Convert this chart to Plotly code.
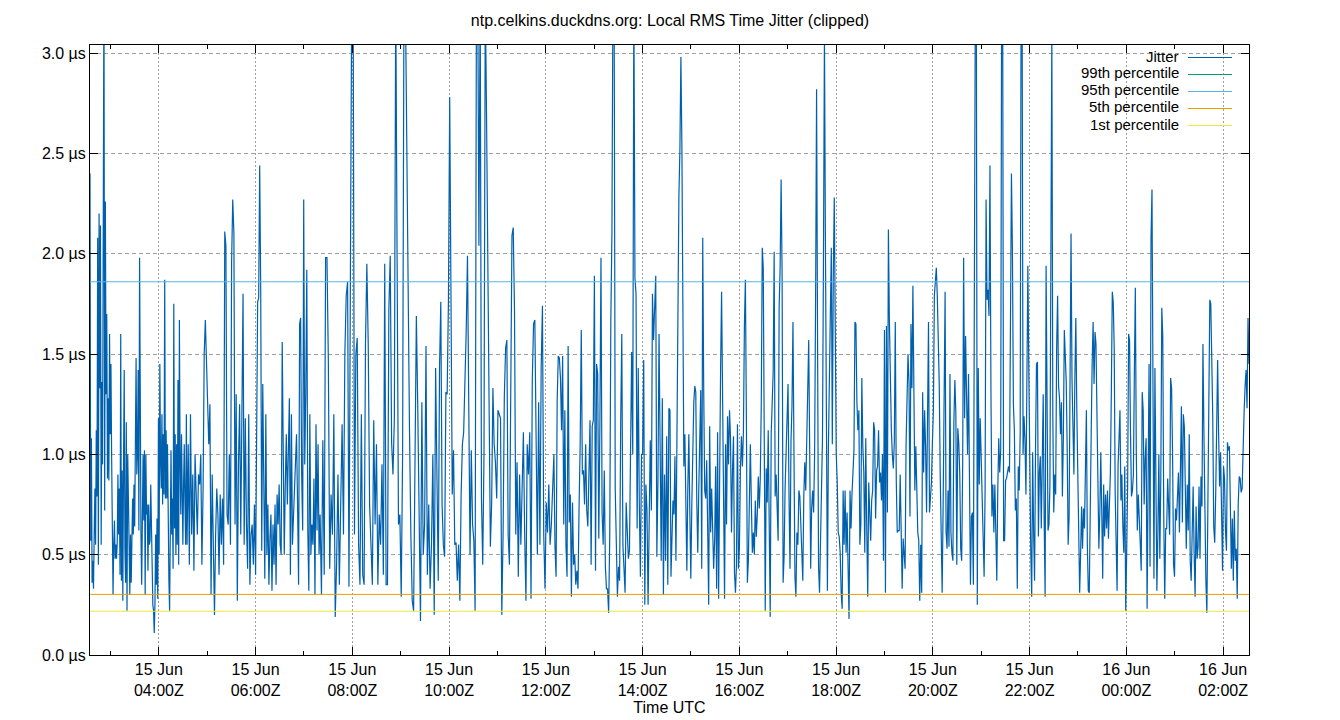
import pandas as pd
import plotly.graph_objects as go

# ---------------- data ----------------
# Jitter samples (µs), grouped by time span.
seg_bounds = [
    "2024-06-15 02:34:36", "2024-06-15 04:35:00", "2024-06-15 06:00:00",
    "2024-06-15 07:20:00", "2024-06-15 09:45:00", "2024-06-15 12:10:00",
    "2024-06-15 14:34:00", "2024-06-15 16:58:00", "2024-06-15 19:22:00",
    "2024-06-15 21:46:00", "2024-06-16 00:10:00", "2024-06-16 02:32:12",
]

seg_a = [2.40, 0.57, 1.08, 0.36, 0.47, 0.33, 0.60, 0.83, 0.55, 1.12, 0.79, 2.08, 0.45, 2.20, 1.33, 2.14,
         0.55, 1.36, 0.95, 3.30, 3.40, 0.72, 2.26, 1.30, 1.70, 0.88, 1.28, 0.87, 1.60, 1.10, 1.45, 0.98,
         0.42, 0.30, 0.55, 0.67, 0.48, 0.55, 0.48, 0.56, 0.90, 0.60, 0.83, 0.40, 1.60, 0.37, 0.92, 0.27,
         0.95, 1.42, 0.53, 0.36, 1.16, 0.22, 1.00, 0.62, 0.55, 0.30, 0.60, 0.36, 0.58, 0.78, 0.60, 0.85,
         0.64, 1.00, 1.48, 0.90, 1.00, 1.42, 0.62, 1.98, 1.10, 0.60, 0.35, 0.78, 1.00, 0.67, 1.02, 0.30,
         1.00, 0.70, 0.75, 0.42, 0.75, 0.55, 0.57, 0.85, 0.55, 0.42, 0.25, 0.22, 0.11, 0.25, 0.60, 0.35,
         0.68, 0.28, 1.18, 0.50, 1.45, 0.97, 0.83, 1.20, 0.75, 1.10, 0.80, 1.87, 0.78, 1.12, 0.78, 1.05,
         0.42, 0.37, 0.22, 0.55, 1.02, 0.60, 0.78, 0.43, 1.75, 0.63, 1.10, 0.50, 1.05, 0.55, 1.37, 0.45,
         1.67, 0.98, 0.70, 1.10, 0.78, 0.55, 0.85, 1.05, 0.75, 0.55, 1.20]
seg_b1 = [0.55, 1.05, 0.45, 1.20, 0.60, 0.90, 0.42, 1.00, 0.82, 0.60, 0.90, 0.85, 1.00, 0.45, 0.82, 1.50,
          1.67, 1.45, 1.30, 1.05, 1.25, 0.30, 0.90, 0.50, 0.20, 0.60, 0.83, 0.70, 0.40, 0.80, 0.55, 0.78,
          0.45, 2.11, 2.04, 0.70, 0.65, 1.00, 0.55, 1.96, 2.27, 2.10, 0.65, 1.30, 0.27, 0.95, 1.25, 0.60,
          1.37, 1.80, 0.55, 1.18, 0.65, 0.43, 1.20, 0.35, 0.60, 0.65, 0.45, 0.75]
seg_b2 = [0.40, 1.05, 1.76, 1.78, 2.44, 1.82, 0.52, 1.35, 0.80, 0.38, 1.20, 0.50, 0.75, 0.35, 0.58, 0.70,
          0.32, 0.65, 0.45, 0.75, 0.35, 0.80, 0.65, 0.85, 0.55, 0.50, 1.56, 0.90, 0.50, 0.85, 1.10, 0.75,
          1.00, 1.28, 0.40, 1.20, 0.55, 0.70, 0.83, 0.90, 1.10, 0.75, 0.35, 1.65, 1.68, 0.90, 0.62, 2.27,
          0.95, 1.30, 1.92, 0.62, 0.32, 1.20, 0.50, 0.65, 0.55, 0.88, 0.30, 1.15, 0.62, 1.05, 0.50]
seg_c = [0.70, 0.30, 1.07, 0.40, 1.98, 1.98, 1.47, 0.43, 0.80, 0.60, 1.20, 0.19, 0.45, 0.90, 0.35, 0.85,
         1.15, 0.60, 1.50, 1.79, 1.86, 0.34, 2.20, 3.30, 3.40, 0.60, 1.50, 1.58, 0.55, 0.35, 1.20, 0.40,
         0.35, 1.55, 1.95, 1.55, 0.75, 0.55, 0.35, 1.17, 0.65, 1.05, 0.35, 0.70, 0.55, 0.95, 0.40, 1.95,
         0.35, 0.35, 1.72, 1.99, 1.06, 0.90, 1.18, 3.30, 1.95, 0.65, 0.70, 0.29, 1.00, 3.30, 3.30, 2.60,
         1.56, 1.13, 0.60, 0.27, 0.22, 1.22, 1.69, 1.24, 0.55, 0.17, 1.26, 0.50, 0.65, 1.54, 0.40, 0.75,
         0.33, 0.55, 1.00, 0.20, 1.43]
seg_d = [1.00, 0.37, 1.43, 1.76, 0.75, 0.55, 0.49, 1.31, 1.30, 1.76, 2.78, 1.89, 0.80, 1.02, 0.55, 0.56,
         0.37, 0.55, 0.27, 0.80, 1.05, 1.11, 1.34, 1.62, 1.99, 1.00, 0.50, 1.02, 0.65, 0.57, 0.22, 3.20,
         3.40, 2.04, 3.30, 0.78, 0.45, 1.00, 3.30, 2.68, 1.89, 1.05, 0.54, 0.75, 1.33, 1.05, 0.96, 0.78,
         1.22, 1.20, 1.18, 0.20, 0.59, 1.29, 1.53, 1.57, 0.60, 0.45, 1.43, 2.09, 2.13, 1.72, 0.60, 0.96,
         0.39, 0.90, 0.55, 0.80, 1.11, 0.60, 0.27, 1.05, 0.90, 1.11, 0.28, 1.37, 1.65, 1.67, 0.95, 0.50,
         1.26, 0.55, 1.43, 1.74, 0.60, 0.33, 0.76, 0.61, 0.85, 0.55, 0.65, 0.89]
seg_e = [1.00, 0.54, 0.39, 1.27, 1.49, 1.48, 1.38, 1.12, 1.49, 0.65, 1.22, 0.55, 0.39, 1.54, 0.66, 0.80,
         0.29, 0.76, 0.45, 0.50, 0.35, 0.42, 0.33, 0.74, 1.05, 1.62, 0.90, 0.92, 0.75, 1.05, 0.72, 0.64,
         1.00, 1.17, 0.45, 1.14, 1.17, 1.89, 0.42, 1.45, 1.40, 0.58, 1.15, 1.98, 0.71, 0.55, 0.92, 0.44,
         0.33, 0.33, 0.21, 0.59, 1.67, 2.11, 3.40, 3.30, 0.83, 0.60, 0.29, 0.44, 0.37, 1.16, 1.60, 0.55,
         0.37, 0.31, 0.76, 0.62, 0.48, 0.52, 1.22, 1.51, 1.00, 3.30, 1.88, 1.80, 0.63, 1.43, 0.75, 0.39,
         1.00, 1.00, 1.47, 0.25, 0.85, 0.72, 0.25, 0.86, 1.07, 0.72, 1.80, 1.57, 1.69, 1.89, 0.49, 0.86,
         1.60, 0.78, 0.47, 1.28, 0.30, 0.90, 0.47, 1.09, 0.35, 1.23]
seg_f = [1.22, 0.39, 0.61, 0.77, 0.70, 0.99, 0.47, 1.19, 1.56, 2.29, 2.52, 2.98, 2.53, 1.50, 0.94, 1.10,
         0.80, 0.42, 0.84, 1.10, 0.71, 0.38, 0.75, 1.04, 1.26, 1.34, 1.31, 0.77, 0.51, 0.82, 1.06, 1.32,
         0.43, 2.08, 1.32, 0.82, 0.78, 0.97, 0.62, 0.25, 1.14, 0.61, 0.83, 0.61, 0.43, 0.57, 0.94, 0.33,
         1.11, 0.28, 1.15, 1.42, 1.81, 1.02, 0.78, 0.28, 1.05, 0.65, 1.19, 0.95, 1.22, 1.08, 0.61, 0.92,
         1.09, 0.41, 0.31, 0.45, 1.15, 0.43, 0.54, 0.93, 1.09, 0.94, 1.11, 1.64, 1.87, 1.18, 0.36, 0.47,
         0.82, 1.05, 0.76, 0.51, 0.61, 0.50, 0.77, 0.59, 0.70, 0.89, 0.73, 0.88, 1.25, 2.03, 1.93, 1.22,
         0.22, 0.93, 0.76, 1.12, 0.42, 0.19, 1.10, 1.28, 1.41, 2.01, 0.79, 0.90, 0.73, 0.57, 1.73, 1.93,
         2.37, 1.89, 0.36, 0.49, 0.83]
seg_g = [1.03, 1.22, 1.35, 0.78, 0.43, 1.07, 1.24, 1.66, 0.77, 0.39, 0.29, 0.61, 0.55, 0.82, 0.79, 0.67,
         0.47, 0.37, 0.79, 0.96, 0.82, 1.06, 1.42, 1.57, 1.02, 0.43, 0.73, 0.82, 0.71, 1.00, 1.77, 2.82,
         1.57, 0.44, 0.31, 0.58, 0.82, 1.08, 1.97, 3.10, 2.05, 0.90, 0.32, 1.02, 1.51, 1.70, 2.03, 1.05,
         1.90, 2.28, 1.63, 1.00, 0.86, 0.61, 0.59, 0.51, 0.31, 0.23, 0.82, 0.55, 0.82, 0.51, 0.71, 0.45,
         0.18, 0.82, 0.63, 0.80, 0.91, 1.02, 1.66, 1.65, 1.26, 1.12, 1.22, 0.55, 0.65, 1.38, 1.04, 0.91,
         0.51, 1.08, 0.63, 0.29, 0.86, 0.69, 0.57, 0.77, 0.82, 1.16, 1.12, 0.68, 0.92, 0.94, 1.12, 0.86,
         0.91, 0.77, 1.00, 0.47, 1.62, 0.31, 1.64, 0.71, 2.12, 1.67, 1.34, 1.12, 1.00, 0.93, 1.06, 1.66,
         0.87, 0.61, 0.62, 0.62, 0.90, 0.55]
seg_h = [0.33, 0.58, 0.51, 0.43, 1.05, 1.36, 1.50, 1.36, 0.69, 1.65, 1.33, 1.84, 1.16, 0.82, 1.04, 0.82,
         0.61, 0.57, 0.27, 0.55, 0.31, 1.31, 0.91, 1.22, 1.04, 0.71, 1.26, 1.66, 0.71, 0.80, 0.86, 1.06,
         1.22, 1.79, 1.87, 1.93, 1.79, 1.61, 1.35, 0.90, 0.62, 0.31, 0.75, 1.28, 1.81, 0.61, 0.53, 0.82,
         0.54, 1.40, 0.61, 0.51, 0.47, 1.16, 1.37, 1.21, 0.45, 1.13, 1.06, 0.91, 0.53, 0.47, 0.94, 1.98,
         1.18, 1.59, 1.24, 1.00, 1.40, 0.88, 0.35, 0.69, 0.71, 0.35, 1.53, 3.30, 3.40, 0.25, 1.43, 0.85,
         1.18, 1.00, 0.82, 0.63, 0.39, 0.82, 2.27, 1.77, 1.82, 1.69, 2.44, 1.31, 0.69, 0.85, 0.61, 0.85,
         0.51, 0.37, 0.82, 1.08, 0.91, 1.02, 3.40, 3.30, 0.57, 0.57, 0.87, 0.88, 0.91, 0.94, 0.91, 1.73,
         2.40, 2.02, 1.25, 1.12, 0.72, 0.78, 0.33]
seg_i = [0.94, 0.82, 1.10, 3.40, 3.30, 1.00, 1.19, 1.07, 0.80, 1.34, 1.94, 1.42, 0.84, 0.53, 0.29, 1.01,
         0.61, 0.37, 1.03, 1.45, 1.46, 0.59, 0.91, 0.99, 0.63, 1.14, 1.30, 0.67, 0.29, 1.94, 1.38, 0.62,
         0.65, 0.85, 2.00, 3.10, 1.20, 0.71, 0.90, 0.80, 1.53, 1.79, 1.34, 1.28, 1.10, 1.26, 0.79, 1.08,
         1.62, 1.44, 1.36, 1.02, 0.55, 0.69, 1.48, 2.10, 1.38, 1.18, 0.90, 1.38, 1.68, 1.23, 0.94, 0.55,
         0.31, 0.51, 0.74, 0.53, 0.73, 0.63, 0.90, 1.22, 0.55, 0.32, 0.31, 0.85, 1.10, 1.45, 1.66, 1.35,
         1.61, 1.55, 1.10, 0.71, 0.53, 0.71, 1.01, 0.72, 0.38, 0.85, 0.59, 0.80, 0.63, 0.82, 0.58, 0.75,
         0.90, 1.30, 1.81, 1.76, 1.53, 0.81, 0.63, 0.32, 0.94, 1.10, 1.22, 0.77, 0.90, 0.64, 0.51, 0.94,
         0.22, 0.51, 0.85, 1.60, 1.57, 1.10, 0.79, 0.82, 0.90]
seg_j = [1.41, 1.83, 1.00, 0.62, 0.80, 0.62, 0.56, 0.42, 1.31, 1.22, 0.75, 0.98, 1.08, 0.23, 1.18, 1.45,
         0.44, 2.08, 2.32, 1.53, 0.38, 1.43, 0.96, 0.32, 0.61, 1.00, 0.48, 0.88, 1.73, 1.59, 0.69, 0.28,
         0.63, 0.63, 0.88, 0.77, 0.60, 1.38, 1.33, 1.00, 0.45, 0.39, 0.73, 0.67, 0.80, 0.91, 0.61, 0.98,
         1.24, 0.66, 1.20, 1.14, 0.69, 0.53, 0.85, 0.62, 1.10, 0.47, 0.37, 0.69, 0.84, 0.51, 0.29, 0.74,
         0.48, 0.54, 0.84, 0.48, 0.89, 0.74, 1.55, 1.10, 0.55, 0.37, 0.21, 0.89, 1.40, 1.77, 1.75, 1.45,
         1.19, 0.64, 0.56, 0.80, 1.06, 1.47, 1.10, 0.84, 1.01, 0.56, 0.42, 0.94, 0.88, 0.62, 0.52, 1.06,
         1.02, 1.04, 0.61, 0.43, 0.68, 0.37, 0.72, 0.47, 0.53, 0.28, 0.75, 0.89, 0.88, 0.81, 0.83, 1.08,
         1.21, 1.34, 1.42, 1.23, 1.68, 1.45]

jitter_segments = [seg_a, seg_b1, seg_b2, seg_c, seg_d, seg_e, seg_f, seg_g, seg_h, seg_i, seg_j]

percentile_names = ["99th percentile", "95th percentile", "5th percentile", "1st percentile"]
percentile_values = [3.50, 1.86, 0.302, 0.218]
percentile_colors = ["#009e73", "#56b4e9", "#e69f00", "#f0e442"]

jitter_name = "Jitter"
jitter_color = "#0060ad"

y_tick_values = [0.0, 0.5, 1.0, 1.5, 2.0, 2.5, 3.0]
y_tick_labels = ["0.0 µs", "0.5 µs", "1.0 µs", "1.5 µs", "2.0 µs", "2.5 µs", "3.0 µs"]
x_range = [seg_bounds[0], seg_bounds[-1]]
y_range = [0.0, 3.04]

# ---------------- build sample times ----------------
times, values = [], []
n_seg = len(jitter_segments)
for i, seg in enumerate(jitter_segments):
    if i == n_seg - 1:
        ts = pd.date_range(seg_bounds[i], seg_bounds[i + 1], periods=len(seg))
    else:
        ts = pd.date_range(seg_bounds[i], seg_bounds[i + 1], periods=len(seg) + 1)[:-1]
    times.extend(ts)
    values.extend(seg)

# ---------------- figure ----------------
FONT = "Liberation Sans, Arial, sans-serif"
fig = go.Figure()

fig.add_trace(go.Scatter(
    x=times, y=values, mode="lines", name=jitter_name,
    line=dict(color=jitter_color, width=1.2), showlegend=False, hoverinfo="skip",
))

for name, val, col in zip(percentile_names, percentile_values, percentile_colors):
    fig.add_trace(go.Scatter(
        x=x_range, y=[val, val], mode="lines", name=name,
        line=dict(color=col, width=1), showlegend=False, hoverinfo="skip",
    ))

# gnuplot-style key: right-justified text followed by a sample line
legend_names = [jitter_name] + percentile_names
legend_colors = [jitter_color] + percentile_colors
plot_l, plot_r, plot_t, plot_b = 90, 1249, 45, 655
pw, ph = plot_r - plot_l, plot_b - plot_t
annotations, shapes = [], []
for i, (nm, col) in enumerate(zip(legend_names, legend_colors)):
    yc = 56 + 17 * i
    annotations.append(dict(
        text=nm, xref="paper", yref="paper", x=(1179 - plot_l) / pw, y=(plot_b - yc) / ph,
        xanchor="right", yanchor="middle", showarrow=False, borderpad=0, borderwidth=0,
        font=dict(family=FONT, size=15, color="#000000"),
    ))
    ys = (plot_b - yc - 1.5) / ph
    shapes.append(dict(
        type="line", xref="paper", yref="paper",
        x0=(1188 - plot_l) / pw, x1=(1232 - plot_l) / pw, y0=ys, y1=ys,
        line=dict(color=col, width=1.2),
    ))

fig.update_layout(
    width=1340, height=720,
    margin=dict(l=plot_l, r=1340 - plot_r, t=plot_t, b=720 - plot_b, autoexpand=False),
    paper_bgcolor="white", plot_bgcolor="white",
    font=dict(family=FONT, size=16, color="#000000"),
    title=dict(
        text="ntp.celkins.duckdns.org: Local RMS Time Jitter (clipped)",
        x=0.5, xanchor="center", xref="container",
        y=1 - 20 / 720, yanchor="middle", yref="container",
        font=dict(family=FONT, size=16, color="#000000"),
    ),
    annotations=annotations, shapes=shapes, showlegend=False,
)

fig.update_xaxes(
    type="date", range=x_range, automargin=False,
    tick0="2024-06-15 00:00", dtick=7200000,
    tickformat="%d %b<br>%H:%MZ",
    ticks="inside", ticklen=8, tickcolor="#000000",
    showline=True, linecolor="#000000", linewidth=1, mirror="ticks",
    showgrid=True, gridcolor="#a0a0a0", griddash="2px,2px", gridwidth=1,
    minor=dict(dtick=3600000, tick0="2024-06-15 00:00", ticks="inside",
               ticklen=4, tickcolor="#000000", showgrid=False),
    zeroline=False,
    title=dict(text="Time UTC", standoff=2, font=dict(family=FONT, size=16)),
    tickfont=dict(family=FONT, size=16, color="#000000"),
)

fig.update_yaxes(
    range=y_range, tickmode="array", tickvals=y_tick_values, ticktext=y_tick_labels,
    automargin=False,
    ticks="inside", ticklen=8, tickcolor="#000000",
    showline=True, linecolor="#000000", linewidth=1, mirror="ticks",
    showgrid=True, gridcolor="#a0a0a0", griddash="4px,3px", gridwidth=1,
    zeroline=False,
    tickfont=dict(family=FONT, size=16, color="#000000"),
)

fig.write_html("out.html")
